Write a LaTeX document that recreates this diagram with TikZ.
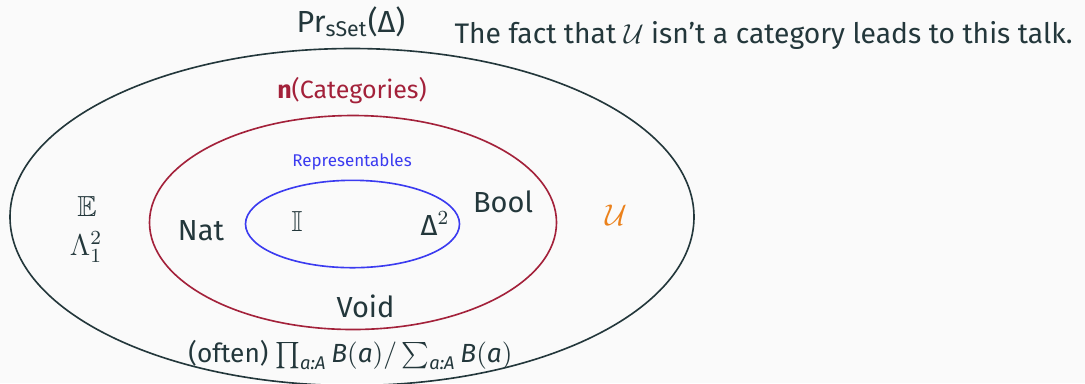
\documentclass[tikz,border=0pt]{standalone}
\usepackage{amsmath,amssymb}
\usepackage{fontspec}
\setmainfont{Fira Sans}
\usepackage{tikz}
\usepackage{xcolor}
\definecolor{ink}    {HTML}{23373B}
\definecolor{paper}  {HTML}{FAFAFA}
\definecolor{catred} {HTML}{A3213A}
\definecolor{repblue}{HTML}{3B3BF0}
\definecolor{univ}   {HTML}{EB811B}
\tikzset{
  ring/.style   ={line width=0.65pt},
  lbl/.style    ={text=ink, font=\fontsize{11.6}{14}\selectfont,
                  inner sep=0pt, anchor=base},
  catlbl/.style ={lbl, text=catred, font=\fontsize{10}{12}\selectfont},
  replbl/.style ={lbl, text=repblue, font=\fontsize{6.8}{8}\selectfont},
  univlbl/.style={lbl, text=univ},
}

\begin{document}
\begin{tikzpicture}[x=0.4pt,y=-0.4pt]
  \useasboundingbox[fill=paper] (0,0) rectangle (1085,383);

  \draw[ring, draw=ink]     (352,217)   ellipse [x radius=342,   y radius=168.5];
  \draw[ring, draw=catred]  (353,222.5) ellipse [x radius=203.5, y radius=107];
  \draw[ring, draw=repblue] (352.5,224) ellipse [x radius=107,   y radius=43.7];

  \node[lbl, font=\fontsize{12.2}{14}\selectfont] (presh) at (351,32)
    {Pr$_{\text{sSet}}$(Δ)};
  \node[lbl, anchor=base west, font=\fontsize{11.3}{14}\selectfont] (fact) at (454,43)
    {The fact that $\mathcal{U}$ isn’t a category leads to this talk.};

  \node[catlbl] (cats) at (352,98) {\textbf{n}(Categories)};
  \node[replbl] (reps) at (352,166.7) {Representables};

  \node[lbl] (interval) at (297,231) {$\mathbb{I}$};
  \node[lbl] (simplex)  at (435,235) {Δ$^2$};
  \node[lbl] (nat)      at (201,240) {Nat};
  \node[lbl] (bool)     at (503,212) {Bool};
  \node[lbl] (void)     at (365.5,317) {Void};

  \node[lbl] (equiv) at (87,216) {$\mathbb{E}$};
  \node[lbl] (horn)  at (86,255) {$\Lambda^2_1$};
  \node[univlbl] (univ) at (616,225) {$\mathcal{U}$};

  \node[lbl, font=\fontsize{10.5}{13}\selectfont] (often) at (350.5,362)
    {(often) $\prod_{\textit{a:A}}\textit{B}(\textit{a})/\sum_{\textit{a:A}}\textit{B}(\textit{a})$};
\end{tikzpicture}
\end{document}
